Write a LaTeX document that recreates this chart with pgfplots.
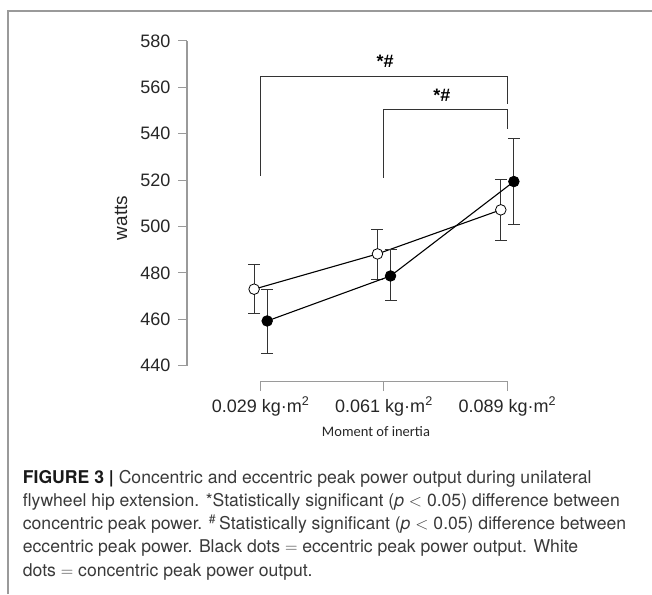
\documentclass[border=0pt]{standalone}
\usepackage{fontspec}
\setmainfont{Liberation Sans}
\newfontfamily\capfont{TeX Gyre Heros}
\newfontfamily\calibri{Carlito}
\usepackage{pgfplots}
\pgfplotsset{compat=1.18}
\definecolor{axisgray}{HTML}{9A9A9A}
\definecolor{captext}{HTML}{3A3A3A}

\begin{document}
\begin{tikzpicture}
\path[use as bounding box] (0pt,0pt) rectangle (652pt,594pt);
% frame round the figure
\draw[axisgray, line width=1.2pt] (8pt,0pt) -- (8pt,583pt) -- (652pt,583pt);

\begin{axis}[
    at={(187pt,212.5pt)}, anchor=south west,
    scale only axis, width=345pt, height=340.5pt,
    xmin=0.403, xmax=3.2, ymin=433.2, ymax=580,
    axis x line*=bottom, axis y line*=left,
    axis line style={draw=none},
    tick align=outside, major tick length=9pt,
    tick style={axisgray, line width=1pt},
    ytick={440,460,...,580},
    xtick={1,2,3},
    xticklabels={0.029 kg·m\textsuperscript{2},0.061 kg·m\textsuperscript{2},0.089 kg·m\textsuperscript{2}},
    ticklabel style={font=\fontsize{18}{20}\selectfont, text=black!85},
    yticklabel style={xshift=-4pt},
    xticklabel style={yshift=-3pt},
    /pgf/number format/assume math mode=true,
    clip=false,
]
\draw[axisgray, line width=1.2pt] (axis cs:0.403,440) -- (axis cs:0.403,580);
\draw[axisgray, line width=1.2pt] (axis cs:1,433.2) -- (axis cs:3,433.2);

% significance brackets
\draw[black!80, line width=1pt] (axis cs:1,522) -- (axis cs:1,564.9) -- (axis cs:3,564.9) -- (axis cs:3,553);
\draw[black!80, line width=1pt] (axis cs:2,521) -- (axis cs:2,550.3) -- (axis cs:3,550.3) -- (axis cs:3,542);
\node[anchor=south, font=\fontsize{18}{20}\selectfont\bfseries, inner sep=0pt] at (axis cs:2.01,568.5) {*\#};
\node[anchor=south, font=\fontsize{18}{20}\selectfont\bfseries, inner sep=0pt] at (axis cs:2.47,554) {*\#};

% concentric (white dots)
\addplot[black, line width=1.1pt, mark=*, mark size=5.3pt,
    mark options={fill=white, line width=0.8pt},
    error bars/.cd, y dir=both, y explicit,
    error bar style={line width=1pt, black!80},
    error mark options={rotate=90, mark size=6pt, line width=1pt, black!80}]
  table[x=x, y=y, y error plus=ep, y error minus=em] {
x      y      ep    em
0.947  473.0  10.8  10.4
1.947  488.2  10.6  11.2
2.947  507.2  12.9  13.3
};
% eccentric (black dots)
\addplot[black, line width=1.1pt, mark=*, mark size=5.3pt,
    mark options={fill=black, line width=0.8pt},
    error bars/.cd, y dir=both, y explicit,
    error bar style={line width=1pt, black!80},
    error mark options={rotate=90, mark size=6pt, line width=1pt, black!80}]
  table[x=x, y=y, y error plus=ep, y error minus=em] {
x      y      ep    em
1.053  459.3  13.7  14.2
2.053  478.7  11.2  10.7
3.053  519.4  18.4  18.3
};
\end{axis}

\node[rotate=90, font=\fontsize{19}{21}\selectfont, text=black!85] at (121pt,376pt) {watts};
\node[font=\calibri\fontsize{14.5}{16}\selectfont, text=black!85] at (376pt,162pt) {Moment of inertia};

% caption
\begin{scope}[every node/.style={anchor=base west, inner sep=0pt, text=captext,
    font=\capfont\fontsize{17.6}{20}\selectfont}]
\node at (22.7pt,111pt) {\textcolor{black!90}{\bfseries FIGURE 3 |} Concentric and eccentric peak power output during unilateral};
\node at (22.7pt,87.7pt) {flywheel hip extension. *Statistically significant (\textit{p} $<$ 0.05) difference between};
\node at (22.7pt,64.4pt) {concentric peak power. \textsuperscript{\#}\,Statistically significant (\textit{p} $<$ 0.05) difference between};
\node at (22.7pt,41.1pt) {eccentric peak power. Black dots $=$ eccentric peak power output. White};
\node at (22.7pt,17.8pt) {dots $=$ concentric peak power output.};
\end{scope}
\end{tikzpicture}
\end{document}
